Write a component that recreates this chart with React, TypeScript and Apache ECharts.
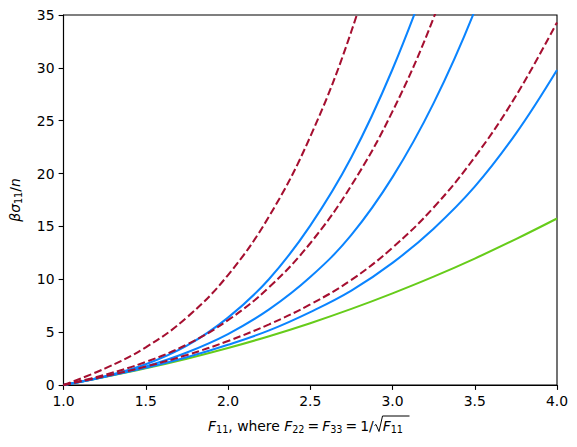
import React, { useEffect, useRef } from "react";
import * as echarts from "echarts";

// stretch F11 (x axis)
const F11 = [1, 1.25, 1.5, 1.75, 2, 2.25, 2.5, 2.75, 3, 3.25, 3.5, 3.75, 4];
// beta*sigma11/n
const greenCurve = [0, 0.76, 1.58, 2.49, 3.5, 4.62, 5.85, 7.2, 8.67, 10.25, 11.96, 13.8, 15.75];
const blueLow = [0, 0.77, 1.62, 2.62, 3.8, 5.17, 6.9, 8.93, 11.55, 14.79, 18.76, 23.78, 29.8];
const blueMid = [0, 0.79, 1.76, 3.08, 4.82, 7.15, 10.21, 14.2, 19.66, 26.66, 35.41, 46.2];
const blueHigh = [0, 0.81, 1.96, 3.72, 6.37, 10.03, 15.08, 21.54, 29.87, 40.0];
const dashLow = [0, 0.82, 1.74, 2.84, 4.16, 5.74, 7.62, 9.94, 12.99, 16.79, 21.55, 27.34, 34.3];
const dashMid = [0, 0.96, 2.18, 3.83, 6.13, 9.25, 13.41, 18.88, 25.88, 34.73, 45.7];
const dashHigh = [0, 1.55, 3.56, 6.39, 10.4, 15.96, 23.49, 33.46, 46.4];

const GREEN = "#66cc1a";
const BLUE = "#0a84ff";
const RED = "#a50f30";
const FONT = "DejaVu Sans";
const FS = 13.9;
const SUB = 9.7;

const pairs = (ys: number[]) => ys.map((y, i) => [F11[i], y]);

const richStyles = (fillKey: "fill" | "color") => ({
  i: { fontFamily: FONT, fontSize: FS, fontStyle: "italic", [fillKey]: "#000", lineHeight: 17 },
  r: { fontFamily: FONT, fontSize: FS, [fillKey]: "#000", lineHeight: 17 },
  q: { fontFamily: FONT, fontSize: FS, [fillKey]: "#000", lineHeight: 17, padding: [0, 3, 0, 3] },
  s: { fontFamily: FONT, fontSize: SUB, [fillKey]: "#000", lineHeight: 10.4, verticalAlign: "bottom" },
  g: { fontFamily: FONT, fontSize: FS, [fillKey]: "#000", lineHeight: 17, width: 9 },
});

export default function App() {
  const ref = useRef<HTMLDivElement>(null);
  useEffect(() => {
    if (!ref.current) return;
    const chart = echarts.init(ref.current, undefined, { renderer: "svg" });
    const solid = (data: number[], color: string) => ({
      type: "line",
      data: pairs(data),
      smooth: 0.4,
      showSymbol: false,
      symbol: "none",
      clip: true,
      lineStyle: { color, width: 2.05, type: "solid" },
      z: 2,
    });
    const dashed = (data: number[]) => ({
      type: "line",
      data: pairs(data),
      smooth: 0.4,
      showSymbol: false,
      symbol: "none",
      clip: true,
      lineStyle: { color: RED, width: 2.05, type: [7.7, 3.3] },
      z: 3,
    });
    chart.setOption({
      animation: false,
      backgroundColor: "#ffffff",
      grid: {
        left: 61,
        top: 15,
        width: 496,
        height: 370,
        show: true,
        borderColor: "#000",
        borderWidth: 1.1,
        backgroundColor: "transparent",
      },
      xAxis: {
        type: "value",
        min: 1,
        max: 4,
        interval: 0.5,
        axisLine: { show: true, onZero: false, lineStyle: { color: "#000", width: 1.1 } },
        axisTick: { show: true, length: 4.9, lineStyle: { color: "#000", width: 1.1 } },
        axisLabel: {
          color: "#000",
          fontFamily: FONT,
          fontSize: FS,
          margin: 9,
          formatter: (v: number) => v.toFixed(1),
        },
        splitLine: { show: false },
      },
      yAxis: {
        type: "value",
        min: 0,
        max: 35,
        interval: 5,
        axisLine: { show: true, onZero: false, lineStyle: { color: "#000", width: 1.1 } },
        axisTick: { show: true, length: 4.9, lineStyle: { color: "#000", width: 1.1 } },
        axisLabel: { color: "#000", fontFamily: FONT, fontSize: FS, margin: 9 },
        splitLine: { show: false },
        name: "{i|βσ}{s|11}{r|/}{i|n}",
        nameLocation: "middle",
        nameRotate: 90,
        nameGap: 40,
        nameTextStyle: { rich: richStyles("color") },
      },
      graphic: [
        {
          type: "text",
          x: 208,
          y: 426,
          style: {
            text: "{i|F}{s|11}{r|, where }{i|F}{s|22}{q|=}{i|F}{s|33}{q|=}{r|1/}{g| }{i|F}{s|11}",
            align: "left",
            verticalAlign: "middle",
            rich: richStyles("fill"),
          },
        },
        {
          type: "polyline",
          shape: {
            points: [
              [374.5, 425.5],
              [376, 424.5],
              [379, 431.5],
              [382.5, 416],
              [409.5, 416],
            ],
          },
          style: { stroke: "#000", lineWidth: 1, fill: "none" },
        },
      ],
      series: [
        solid(greenCurve, GREEN),
        solid(blueLow, BLUE),
        solid(blueMid, BLUE),
        solid(blueHigh, BLUE),
        dashed(dashLow),
        dashed(dashMid),
        dashed(dashHigh),
      ],
    });
    return () => chart.dispose();
  }, []);
  return (
    <div
      ref={ref}
      style={{ position: "fixed", left: 0, top: 0, width: 577, height: 447, background: "#fff" }}
    />
  );
}
